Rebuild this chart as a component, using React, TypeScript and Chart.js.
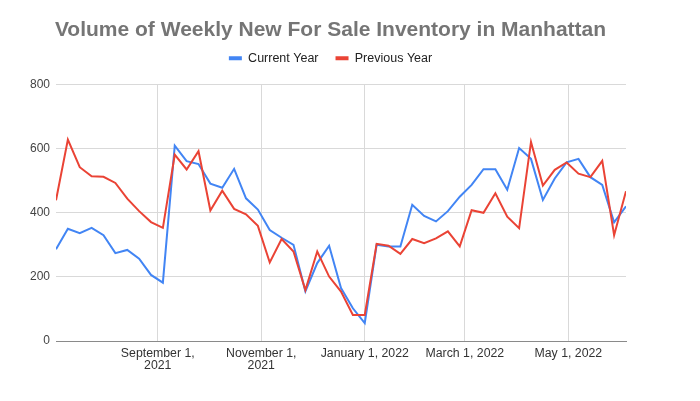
import React, { useEffect, useRef } from "react";
import { Chart, registerables } from "chart.js";

Chart.register(...registerables);

const TITLE = "Volume of Weekly New For Sale Inventory in Manhattan";
const SERIES_NAMES = ["Current Year", "Previous Year"];

const weekDates = [
  "2021-07-03", "2021-07-10", "2021-07-17", "2021-07-24", "2021-07-31",
  "2021-08-07", "2021-08-14", "2021-08-21", "2021-08-28",
  "2021-09-04", "2021-09-11", "2021-09-18", "2021-09-25",
  "2021-10-02", "2021-10-09", "2021-10-16", "2021-10-23", "2021-10-30",
  "2021-11-06", "2021-11-13", "2021-11-20", "2021-11-27",
  "2021-12-04", "2021-12-11", "2021-12-18", "2021-12-25",
  "2022-01-01", "2022-01-08", "2022-01-15", "2022-01-22", "2022-01-29",
  "2022-02-05", "2022-02-12", "2022-02-19", "2022-02-26",
  "2022-03-05", "2022-03-12", "2022-03-19", "2022-03-26",
  "2022-04-02", "2022-04-09", "2022-04-16", "2022-04-23", "2022-04-30",
  "2022-05-07", "2022-05-14", "2022-05-21", "2022-05-28",
  "2022-06-04",
];

const currentYear = [
  286, 350, 336, 353, 330, 274, 284, 257, 206, 182,
  609, 561, 552, 491, 478, 537, 445, 410, 346, 322,
  300, 155, 243, 297, 165, 102, 56, 300, 295, 295,
  425, 390, 373, 405, 450, 487, 536, 536, 472, 602,
  568, 440, 507, 557, 568, 511, 487, 370, 420,
];

const previousYear = [
  439, 628, 542, 514, 512, 493, 444, 405, 371, 353,
  581, 535, 592, 407, 469, 412, 395, 359, 245, 318,
  279, 159, 279, 201, 154, 81, 81, 303, 297, 272,
  318, 305, 320, 342, 295, 408, 400, 461, 388, 352,
  621, 485, 534, 557, 522, 511, 562, 330, 467,
];

const xTickDates = ["2021-09-01", "2021-11-01", "2022-01-01", "2022-03-01", "2022-05-01"];
const xTickLabels: (string | string[])[] = [
  ["September 1,", "2021"],
  ["November 1,", "2021"],
  "January 1, 2022",
  "March 1, 2022",
  "May 1, 2022",
];
const yTicks = [0, 200, 400, 600, 800];

const FONT = "Arial, 'Liberation Sans', Helvetica, sans-serif";
const BLUE = "#4285F4";
const RED = "#EA4335";

const toDay = (s: string) => {
  const [y, m, d] = s.split("-").map(Number);
  return Date.UTC(y, m - 1, d) / 86400000;
};

const legendGap = {
  id: "legendGap",
  afterInit(chart: any) {
    const lg = chart.legend;
    if (!lg) return;
    const orig = lg.fit;
    lg.fit = function () {
      orig.call(this);
      this.height += 10;
    };
  },
};

export default function App() {
  const ref = useRef<HTMLCanvasElement>(null);

  useEffect(() => {
    if (!ref.current) return;
    const xs = weekDates.map(toDay);
    const chart = new Chart(ref.current, {
      type: "line",
      data: {
        datasets: [
          {
            label: SERIES_NAMES[0],
            data: xs.map((x, i) => ({ x, y: currentYear[i] })),
            borderColor: BLUE,
            backgroundColor: BLUE,
            borderWidth: 2,
            pointRadius: 0,
            tension: 0,
            fill: false,
            order: 1,
          },
          {
            label: SERIES_NAMES[1],
            data: xs.map((x, i) => ({ x, y: previousYear[i] })),
            borderColor: RED,
            backgroundColor: RED,
            borderWidth: 2,
            pointRadius: 0,
            tension: 0,
            fill: false,
            order: 0,
          },
        ],
      },
      options: {
        animation: false,
        responsive: false,
        maintainAspectRatio: false,
        events: [],
        layout: { padding: { left: 26, right: 65, top: 0, bottom: 0 } },
        plugins: {
          title: {
            display: true,
            text: TITLE,
            color: "#757575",
            font: { family: FONT, size: 21, weight: "bold", lineHeight: 1.2 },
            padding: { top: 17.4, bottom: -7.6 },
          },
          legend: {
            display: true,
            position: "top",
            labels: {
              boxWidth: 13,
              boxHeight: 4,
              padding: 17,
              color: "#222",
              font: { family: FONT, size: 12.5 },
              sort: (a: any, b: any) => a.datasetIndex - b.datasetIndex,
              generateLabels: (c: any) =>
                Chart.defaults.plugins.legend.labels
                  .generateLabels(c)
                  .map((l: any) => ({ ...l, lineWidth: 0, fillStyle: l.strokeStyle })),
            },
          },
          tooltip: { enabled: false },
        },
        scales: {
          x: {
            type: "linear",
            min: xs[0],
            max: xs[xs.length - 1],
            afterBuildTicks: (s: any) => {
              s.ticks = xTickDates.map((d) => ({ value: toDay(d) }));
            },
            afterFit: (s: any) => {
              s.height = 60;
            },
            grid: { color: "#d9d9d9", drawTicks: false, lineWidth: 1 },
            border: { display: true, color: "#8a8a8a", width: 1 },
            ticks: {
              autoSkip: false,
              maxRotation: 0,
              minRotation: 0,
              padding: 6,
              color: "#333",
              font: { family: FONT, size: 12.3, lineHeight: 1 },
              callback: (v: any) => {
                const idx = xTickDates.findIndex((d) => toDay(d) === v);
                return idx >= 0 ? xTickLabels[idx] : "";
              },
            },
          },
          y: {
            type: "linear",
            position: "left",
            min: 0,
            max: 800,
            afterBuildTicks: (s: any) => {
              s.ticks = yTicks.map((v) => ({ value: v }));
            },
            afterFit: (s: any) => {
              s.width = 30;
            },
            grid: { color: "#d9d9d9", drawTicks: false, lineWidth: 1 },
            border: { display: false },
            ticks: {
              padding: 6,
              color: "#444",
              font: { family: FONT, size: 12 },
            },
          },
          rightSpacer: {
            type: "linear",
            position: "right",
            display: true,
            grid: { display: false, drawTicks: false },
            border: { display: false },
            ticks: { display: false },
            afterFit: (s: any) => {
              s.width = 9;
            },
          },
        },
      },
      plugins: [legendGap],
    } as any);
    return () => chart.destroy();
  }, []);

  return (
    <div style={{ position: "fixed", left: 0, top: 0, width: 700, height: 401, background: "#fff" }}>
      <canvas ref={ref} width={700} height={401} />
    </div>
  );
}
